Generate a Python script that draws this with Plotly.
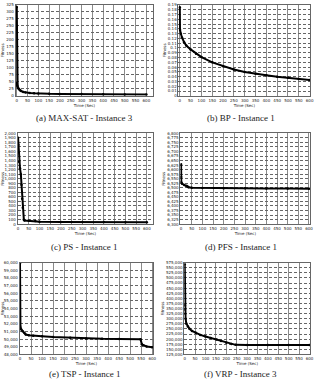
import plotly.graph_objects as go

# (a) MAX-SAT - Instance 3
maxsat_t = [0, 0.5, 1, 2, 4, 7, 10, 15, 20, 30, 40, 60, 80, 100, 150, 200, 300, 400, 500, 600]
maxsat_v = [318, 46, 42, 37, 32, 27, 24, 20, 17, 14, 12, 10, 9, 8, 7, 6.5, 6, 5.5, 5, 5]

# (b) BP - Instance 1
bp_t = [0, 1, 5, 10, 20, 30, 50, 75, 100, 150, 200, 250, 300, 350, 400, 450, 500, 550, 600]
bp_v = [0.185, 0.138, 0.130, 0.122, 0.112, 0.105, 0.097, 0.088, 0.081, 0.070, 0.062,
        0.055, 0.050, 0.046, 0.043, 0.040, 0.038, 0.035, 0.033]

# (c) PS - Instance 1
ps_t = [0, 1.5, 4.5, 9, 13, 16, 19, 22, 27, 30, 50, 80, 100, 200, 300, 400, 500, 600]
ps_v = [1905, 1750, 1375, 1230, 1100, 870, 560, 360, 95, 80, 75, 70, 55, 50, 48, 45, 42, 40]

# (d) PFS - Instance 1
pfs_t = [0, 0.5, 1, 5, 15, 25, 30, 35, 50, 100, 200, 300, 400, 500, 600]
pfs_v = [6630, 6560, 6530, 6522, 6515, 6512, 6508, 6503, 6500, 6499, 6498, 6497, 6496, 6496, 6495]

# (e) TSP - Instance 1
tsp_t = [0, 0.5, 2, 5, 12, 20, 26, 40, 60, 100, 150, 228, 300, 373, 450, 547, 553, 560, 575, 600]
tsp_v = [59900, 51700, 51500, 51300, 51050, 50800, 50600, 50520, 50450, 50380, 50280, 50170,
         50100, 50040, 50010, 50000, 49350, 49200, 49050, 48950]

# (f) VRP - Instance 3
vrp_t = [0, 0.5, 1, 2, 4, 8, 15, 23, 35, 53, 75, 100, 125, 153, 175, 200, 225, 245, 300, 400, 500, 600]
vrp_v = [567000, 366000, 345000, 325000, 300000, 276000, 262000, 251000, 240000, 231000, 221000,
         213000, 206000, 198600, 191000, 182000, 176000, 172000, 171500, 171000, 171000, 171000]

captions = ["(a) MAX-SAT - Instance 3", "(b) BP - Instance 1", "(c) PS - Instance 1",
            "(d) PFS - Instance 1", "(e) TSP - Instance 1", "(f) VRP - Instance 3"]

W, H = 323, 392
panels = [
    (maxsat_t, maxsat_v, (10, 152), (2, 94), (-5, 632), (0, 325), 25, "d"),
    (bp_t, bp_v, (178, 314), (2, 94), (-6, 603), (0, 0.19), 0.01, ""),
    (ps_t, ps_v, (12, 152), (132, 224), (-2, 630), (0, 2000), 100, ",d"),
    (pfs_t, pfs_v, (180, 314), (132, 224), (-3, 606), (6300, 6800), 25, ",d"),
    (tsp_t, tsp_v, (14, 152), (263, 356), (-2, 605), (48000, 60000), 1000, ",d"),
    (vrp_t, vrp_v, (184, 314), (263, 356), (-2, 604), (125000, 575000), 25000, ",d"),
]
cap_pos = [(81, 116), (242, 116), (81, 247), (242, 247), (81, 376), (242, 376)]

fig = go.Figure()
layout = dict(width=W, height=H, margin=dict(l=0, r=0, t=0, b=0),
              paper_bgcolor="white", plot_bgcolor="white", showlegend=False)
annotations = []
tickfont = dict(family="DejaVu Sans", size=4, color="#222")
for i, (t, v, xpx, ypx, xr, yr, dt, tf) in enumerate(panels):
    n = "" if i == 0 else str(i + 1)
    fig.add_trace(go.Scatter(x=t, y=v, mode="lines+markers",
                             line=dict(color="black", width=2),
                             marker=dict(color="black", size=2.5),
                             xaxis="x" + n, yaxis="y" + n))
    layout["xaxis" + n] = dict(domain=[xpx[0] / W, xpx[1] / W], range=list(xr),
                               anchor="y" + n, dtick=50, tick0=0, tickfont=tickfont,
                               showgrid=True, gridcolor="#8a8a8a", gridwidth=0.6,
                               showline=True, linecolor="#666", linewidth=1, mirror=True,
                               zeroline=False, ticks="", ticklen=0,
                               title=dict(text="Time (Sec)", font=dict(family="DejaVu Sans", size=4, color="#222"),
                                          standoff=1))
    layout["yaxis" + n] = dict(domain=[1 - ypx[1] / H, 1 - ypx[0] / H], range=list(yr),
                               anchor="x" + n, dtick=dt, tick0=yr[0], tickfont=tickfont,
                               tickformat=tf,
                               showgrid=True, gridcolor="#666", gridwidth=0.6, griddash="3px,2px",
                               showline=True, linecolor="#666", linewidth=1, mirror=True,
                               zeroline=False, ticks="", ticklen=0,
                               title=dict(text="Fitness", font=dict(family="DejaVu Sans", size=4, color="#222"),
                                          standoff=1))
    cx, cy = cap_pos[i]
    annotations.append(dict(text=captions[i], x=cx / W, y=1 - cy / H, xref="paper", yref="paper",
                            showarrow=False, xanchor="center", yanchor="middle",
                            font=dict(family="Liberation Serif", size=9, color="#222")))
layout["annotations"] = annotations
fig.update_layout(**layout)
fig.write_html("out.html")
